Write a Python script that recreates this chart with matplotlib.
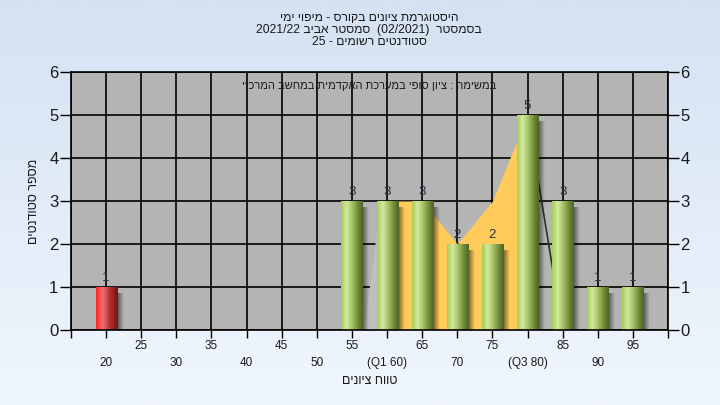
import re
import numpy as np
import matplotlib
matplotlib.use("Agg")
import matplotlib.pyplot as plt
from matplotlib.colors import LinearSegmentedColormap

plt.rcParams['font.family'] = ['Liberation Sans', 'DejaVu Sans']

# נתונים
grades = [20, 25, 30, 35, 40, 45, 50, 55, 60, 65, 70, 75, 80, 85, 90, 95]
counts = [1, 0, 0, 0, 0, 0, 0, 3, 3, 3, 2, 2, 5, 3, 1, 1]
tick_labels = ['20', '25', '30', '35', '40', '45', '50', '55', '(Q1 60)', '65',
               '70', '75', '(Q3 80)', '85', '90', '95']
fail_below = 55

iqr_x = [60, 65, 70, 75, 80]
iqr_y = [3, 3, 2, 3, 5]
rise_x = [56.7, 58.6]
rise_y = [0, 2.4]
tail_x = [80, 85]
tail_y = [5, 0]

title_lines = ['היסטוגרמת ציונים בקורס - מיפוי ימי',
               'בסמסטר  (02/2021)  סמסטר אביב 2021/22',
               'סטודנטים רשומים - 25']
task_text = 'במשימה : ציון סופי במערכת האקדמית במחשב המרכזי'
xlabel = 'טווח ציונים'
ylabel = 'מספר סטודנטים'


def rtl(s):
    # matplotlib לא מבצע bidi - מסדרים את הטקסט בסדר חזותי
    runs = re.findall(r'[0-9A-Za-z/.]+|[^0-9A-Za-z/.]+', s)
    out = []
    for r in reversed(runs):
        if re.match(r'[0-9A-Za-z]', r):
            out.append(r)
        else:
            out.append(r[::-1].translate(str.maketrans('()', ')(')))
    return ''.join(out)


txt = '#1a1a1a'
fig = plt.figure(figsize=(7.2, 4.05), dpi=100)

# רקע מדורג
bg = fig.add_axes([0, 0, 1, 1], zorder=-1)
top_c = np.array([0xd4, 0xe2, 0xf3]) / 255
bot_c = np.array([0xf0, 0xf6, 0xfd]) / 255
t = np.linspace(0, 1, 200)[:, None]
bg.imshow((top_c * (1 - t) + bot_c * t)[:, None, :].repeat(2, axis=1), aspect='auto',
          extent=(0, 1, 0, 1))
bg.axis('off')

ax = fig.add_axes([0.0986, 0.1852, 0.8292, 0.637])
ax.set_facecolor('#b4b4b4')
ax.set_axisbelow(True)
ax.set_xticks(np.arange(15, 101, 5))
ax.set_yticks(range(7))
ax.grid(True, color='black', linewidth=1.2)
ax.tick_params(axis='x', labelbottom=False, length=6, width=1, direction='out')
ax.tick_params(axis='y', left=True, right=True, labelleft=True, labelright=True,
               length=8, width=1, pad=1, labelsize=12, labelcolor=txt)
for s in ax.spines.values():
    s.set_color('black')
    s.set_linewidth(1.2)

# שטחים
ax.fill_between(rise_x, rise_y, color='#bfbfbf', lw=0, zorder=1)
ax.fill_between(iqr_x, iqr_y, color='#ffcb5a', lw=0, zorder=1.1)
ax.plot(tail_x, tail_y, color='#303030', lw=1.2, zorder=1.2)

green = LinearSegmentedColormap.from_list('g', [(0, '#a4cc50'), (0.25, '#d2eaa2'),
                                                (0.5, '#a8c466'), (0.8, '#6c8538'),
                                                (1, '#4e6424')])
red = LinearSegmentedColormap.from_list('r', [(0, '#ff2424'), (0.3, '#ef7474'),
                                              (0.6, '#b83434'), (1, '#761010')])
grad = np.linspace(0, 1, 64).reshape(1, -1)
shadow = np.zeros((1, 32, 4))
shadow[0, :, 3] = np.linspace(0.55, 0, 32)

w = 3.0
for g, c in zip(grades, counts):
    if c == 0:
        continue
    cmap = red if g < fail_below else green
    ax.imshow(shadow, extent=(g + w / 2, g + w / 2 + 0.9, -0.08, c - 0.15),
              aspect='auto', zorder=1.5)
    ax.imshow(grad, cmap=cmap, extent=(g - w / 2, g + w / 2, 0, c),
              aspect='auto', zorder=2, interpolation='bilinear')
    ax.text(g, c + 0.08, str(c), ha='center', va='bottom', fontsize=9.5, color='#203040',
            zorder=3)

ax.set_xlim(15, 100)
ax.set_ylim(0, 6)

# תוויות ציר X בשתי שורות
tr = ax.get_xaxis_transform()
for i, (g, lab) in enumerate(zip(grades, tick_labels)):
    yy = -0.128 if i % 2 == 0 else -0.062
    ax.text(g, yy, lab, transform=tr, ha='center', va='center', fontsize=8.5, color=txt)

ax.text(0.5, -0.198, rtl(xlabel), transform=ax.transAxes, ha='center', va='center',
        fontsize=9, color=txt)
fig.text(34 / 720, 1 - 201 / 405, rtl(ylabel), rotation=90, ha='center', va='center',
         fontsize=9, color=txt)
ax.text(0.5, 0.946, rtl(task_text), transform=ax.transAxes, ha='center', va='center',
        fontsize=8, color=txt, zorder=3)
for k, line in enumerate(title_lines):
    fig.text(369 / 720, 1 - (18 + 12 * k) / 405, rtl(line), ha='center', va='center',
             fontsize=8.7, color=txt)

fig.savefig('out.png', dpi=100)
